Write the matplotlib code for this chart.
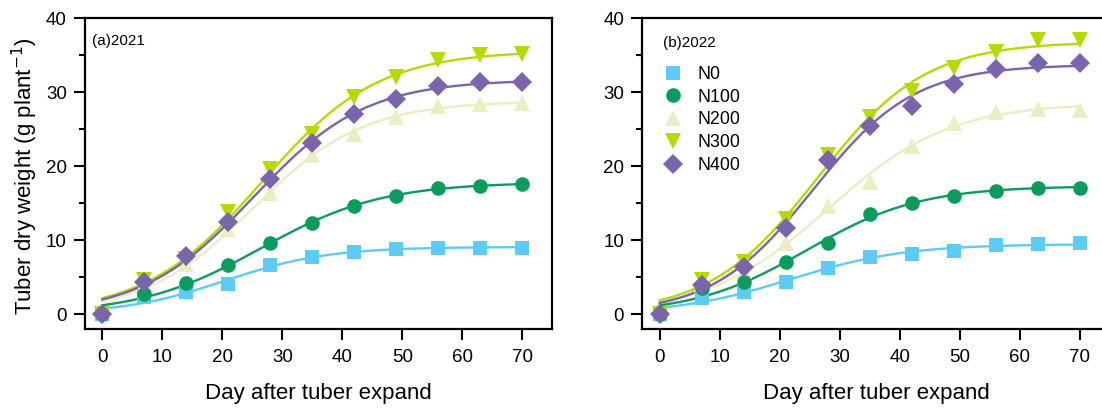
import numpy as np
import matplotlib
matplotlib.use("Agg")
import matplotlib.pyplot as plt
from matplotlib.ticker import MultipleLocator

plt.rcParams['font.family'] = ['Liberation Sans', 'DejaVu Sans']

days = [0, 7, 14, 21, 28, 35, 42, 49, 56, 63, 70]
treatments = ["N0", "N100", "N200", "N300", "N400"]

# 2021
y2021_N0 = [0, 2.4, 3.0, 4.1, 6.7, 7.8, 8.4, 8.8, 9.0, 9.0, 9.0]
y2021_N100 = [0, 2.8, 4.2, 6.7, 9.6, 12.4, 14.6, 16.0, 17.1, 17.4, 17.6]
y2021_N200 = [0, 4.0, 6.8, 11.5, 16.4, 21.5, 24.4, 26.7, 28.1, 28.4, 28.6]
y2021_N300 = [0, 4.7, 7.5, 13.8, 19.7, 24.4, 29.3, 32.0, 34.4, 35.1, 35.2]
y2021_N400 = [0, 4.3, 7.9, 12.5, 18.3, 23.2, 27.1, 29.1, 30.8, 31.4, 31.4]

# 2022
y2022_N0 = [0, 2.2, 3.0, 4.4, 6.3, 7.8, 8.2, 8.6, 9.3, 9.5, 9.6]
y2022_N100 = [0, 3.5, 4.4, 7.0, 9.6, 13.6, 15.1, 16.0, 16.7, 17.1, 17.1]
y2022_N200 = [0, 4.0, 5.8, 9.7, 14.7, 17.9, 22.7, 25.9, 27.4, 27.7, 27.6]
y2022_N300 = [0, 4.6, 7.0, 12.9, 21.5, 26.7, 30.2, 33.3, 35.4, 37.0, 37.1]
y2022_N400 = [0, 4.0, 6.4, 11.7, 20.9, 25.4, 28.1, 31.1, 33.1, 34.0, 34.0]

colors = ["#5CCBF5", "#0C9B5F", "#EBEDC2", "#B6DA00", "#7B64AB"]
markers = ["s", "o", "^", "v", "D"]
msizes = [9.5, 10.5, 11.5, 11.5, 10.5]


def fit_logistic(x, y):
    """Least-squares logistic fit y = K / (1 + exp(-r (x - x0))) via grid search."""
    x = np.asarray(x, float)
    y = np.asarray(y, float)
    x0s = np.arange(5, 50, 0.1)
    rs = np.arange(0.03, 0.35, 0.001)
    X0, R = np.meshgrid(x0s, rs, indexing="ij")
    S = 1.0 / (1.0 + np.exp(-R[..., None] * (x[None, None, :] - X0[..., None])))
    K = (S * y).sum(-1) / (S * S).sum(-1)
    err = ((K[..., None] * S - y) ** 2).sum(-1)
    i, j = np.unravel_index(np.argmin(err), err.shape)
    return K[i, j], x0s[i], rs[j]


W, H = 1102, 409
fig = plt.figure(figsize=(W / 100, H / 100), dpi=100)
top, bot = 18.3, 329.3
aw = 552.3 - 85.0
ax1 = fig.add_axes([85.0 / W, 1 - bot / H, aw / W, (bot - top) / H])
ax2 = fig.add_axes([642.3 / W, 1 - bot / H, aw / W, (bot - top) / H])

data = {
    ax1: [y2021_N0, y2021_N100, y2021_N200, y2021_N300, y2021_N400],
    ax2: [y2022_N0, y2022_N100, y2022_N200, y2022_N300, y2022_N400],
}

xs = np.linspace(0, 70, 300)
for ax, series in data.items():
    for name, ys, c in zip(treatments, series, colors):
        K, x0, r = fit_logistic(days, ys)
        ax.plot(xs, K / (1 + np.exp(-r * (xs - x0))), color=c, lw=1.7, zorder=2)
    order = [2, 0, 1, 3, 4]
    for k in order:
        ax.plot(days, series[k], ls="none", marker=markers[k], color=colors[k],
                markersize=msizes[k], markeredgewidth=0, label=treatments[k], zorder=3)
    ax.set_xlim(-2.9, 75.0)
    ax.set_ylim(-2.03, 40)
    ax.yaxis.set_major_locator(MultipleLocator(10))
    ax.yaxis.set_minor_locator(MultipleLocator(5))
    ax.xaxis.set_major_locator(MultipleLocator(10))
    ax.tick_params(axis="both", which="major", direction="out", length=8, width=1.5,
                   labelsize=13.5)
    ax.tick_params(axis="x", which="major", pad=6)
    ax.tick_params(axis="y", which="major", pad=5)
    ax.tick_params(axis="y", which="minor", direction="out", length=4.5, width=1.5)
    for s in ax.spines.values():
        s.set_linewidth(1.6)
    ax.set_xlabel("Day after tuber expand", fontsize=16)
    ax.xaxis.label.set_va("center")
    ax.xaxis.set_label_coords(0.5, (bot - 394) / (bot - top))

ax1.set_ylabel("Tuber dry weight (g plant$^{-1}$)", fontsize=16)
ax1.yaxis.label.set_va("center")
ax1.yaxis.set_label_coords((25 - 85) / aw, 0.5 - (176 - 173.8) / (bot - top))

ax1.text((92 - 85) / aw, (bot - 41) / (bot - top), "(a)2021", transform=ax1.transAxes,
         fontsize=11, va="center", ha="left")
ax2.text((663 - 642.3) / aw, (bot - 43) / (bot - top), "(b)2022", transform=ax2.transAxes,
         fontsize=11, va="center", ha="left")

handles, labels = ax2.get_legend_handles_labels()
hmap = dict(zip(labels, handles))
ax2.legend([hmap[t] for t in treatments], treatments, loc="upper left",
           bbox_to_anchor=((662 - 642.3) / aw, (bot - 66) / (bot - top)), frameon=False,
           fontsize=12.8, handlelength=1.2, handletextpad=0.8, labelspacing=0.32,
           borderaxespad=0, borderpad=0)

fig.savefig("out.png", dpi=100)
